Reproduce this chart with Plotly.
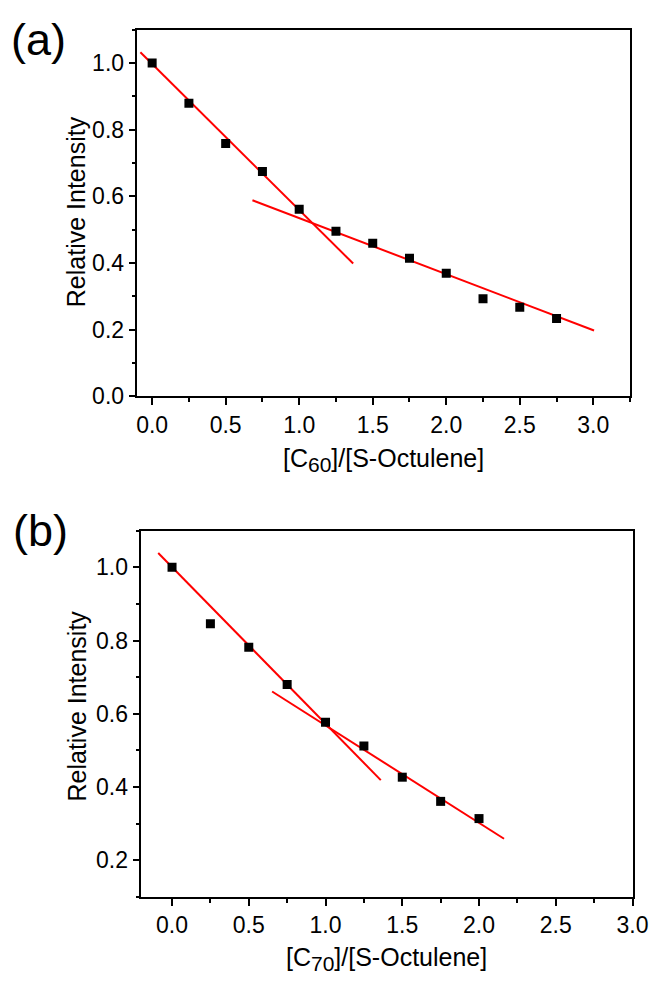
import plotly.graph_objects as go

# ---- data ----
ratio_c60 = [0.0, 0.25, 0.5, 0.75, 1.0, 1.25, 1.5, 1.75, 2.0, 2.25, 2.5, 2.75]
intensity_c60 = [1.0, 0.879, 0.758, 0.674, 0.561, 0.495, 0.459, 0.414, 0.369, 0.292, 0.267, 0.233]
fit_c60_1_x = [-0.08, 1.367]
fit_c60_1_y = [1.032, 0.398]
fit_c60_2_x = [0.682, 3.005]
fit_c60_2_y = [0.588, 0.197]

ratio_c70 = [0.0, 0.25, 0.5, 0.75, 1.0, 1.25, 1.5, 1.75, 2.0]
intensity_c70 = [1.0, 0.846, 0.782, 0.680, 0.577, 0.512, 0.427, 0.361, 0.314]
fit_c70_1_x = [-0.09, 1.36]
fit_c70_1_y = [1.039, 0.419]
fit_c70_2_x = [0.652, 2.163]
fit_c70_2_y = [0.661, 0.259]

x_tickvals = [0.0, 0.5, 1.0, 1.5, 2.0, 2.5, 3.0]
x_ticktext = ["0.0", "0.5", "1.0", "1.5", "2.0", "2.5", "3.0"]
y_tickvals_a = [0.0, 0.2, 0.4, 0.6, 0.8, 1.0]
y_ticktext_a = ["0.0", "0.2", "0.4", "0.6", "0.8", "1.0"]
y_tickvals_b = [0.2, 0.4, 0.6, 0.8, 1.0]
y_ticktext_b = ["0.2", "0.4", "0.6", "0.8", "1.0"]

FONT = "Arial, Liberation Sans, sans-serif"
RED = "#ff0000"

fig = go.Figure()

def add_panel(xs, ys, f1x, f1y, f2x, f2y, xa, ya):
    fig.add_trace(go.Scatter(x=f1x, y=f1y, mode="lines", line=dict(color=RED, width=2),
                             xaxis=xa, yaxis=ya, showlegend=False, hoverinfo="skip"))
    fig.add_trace(go.Scatter(x=f2x, y=f2y, mode="lines", line=dict(color=RED, width=2),
                             xaxis=xa, yaxis=ya, showlegend=False, hoverinfo="skip"))
    fig.add_trace(go.Scatter(x=xs, y=ys, mode="markers",
                             marker=dict(symbol="square", size=9, color="black", line=dict(width=0)),
                             xaxis=xa, yaxis=ya, showlegend=False))

add_panel(ratio_c60, intensity_c60, fit_c60_1_x, fit_c60_1_y, fit_c60_2_x, fit_c60_2_y, "x", "y")
add_panel(ratio_c70, intensity_c70, fit_c70_1_x, fit_c70_1_y, fit_c70_2_x, fit_c70_2_y, "x2", "y2")

W, H = 668, 982

def px_x(p):
    return p / W

def px_y(p):
    return 1 - p / H

common = dict(showline=True, mirror=True, linecolor="black", linewidth=1.5,
              ticks="outside", ticklen=7, tickwidth=1.5, tickcolor="black",
              showgrid=False, zeroline=False,
              tickfont=dict(family=FONT, size=23, color="black"))

xcommon = dict(common, tickmode="array", tickvals=x_tickvals, ticktext=x_ticktext,
               minor=dict(dtick=0.25, tick0=0, ticks="outside", ticklen=4, tickwidth=1.5,
                          tickcolor="black", showgrid=False))

fig.update_layout(
    width=W, height=H,
    margin=dict(l=0, r=0, t=0, b=0),
    paper_bgcolor="white", plot_bgcolor="white",
    xaxis=dict(xcommon, domain=[px_x(140), px_x(645.5)], anchor="y", range=[-0.1, 3.25]),
    yaxis=dict(common, domain=[px_y(401.5), px_y(30)], anchor="x", range=[0, 1.1],
               tickmode="array", tickvals=y_tickvals_a, ticktext=y_ticktext_a,
               minor=dict(dtick=0.1, tick0=0, ticks="outside", ticklen=4, tickwidth=1.5,
                          tickcolor="black", showgrid=False)),
    xaxis2=dict(xcommon, domain=[px_x(144), px_x(648)], anchor="y2", range=[-0.2, 3.0]),
    yaxis2=dict(common, domain=[px_y(909), px_y(537.8)], anchor="x2", range=[0.1, 1.1],
                tickmode="array", tickvals=y_tickvals_b, ticktext=y_ticktext_b,
                minor=dict(dtick=0.1, tick0=0, ticks="outside", ticklen=4, tickwidth=1.5,
                           tickcolor="black", showgrid=False)),
)

title_font = dict(family=FONT, size=25, color="black")
annotations = [
    dict(text="(a)", x=px_x(38), y=px_y(40), font=dict(family=FONT, size=45, color="black")),
    dict(text="(b)", x=px_x(41), y=px_y(538), font=dict(family=FONT, size=45, color="black")),
    dict(text="Relative Intensity", x=px_x(77), y=px_y(215), textangle=-90, font=title_font),
    dict(text="Relative Intensity", x=px_x(78), y=px_y(716), textangle=-90, font=title_font),
    dict(text='[C<sub><span style="font-size:21px">60</span></sub>]/[S-Octulene]',
         x=px_x(393), y=px_y(466), font=title_font),
    dict(text='[C<sub><span style="font-size:21px">70</span></sub>]/[S-Octulene]',
         x=px_x(396), y=px_y(972), font=title_font),
]
for a in annotations:
    a.update(xref="paper", yref="paper", xanchor="center", yanchor="middle", showarrow=False)
fig.update_layout(annotations=annotations)

fig.write_html("out.html")
